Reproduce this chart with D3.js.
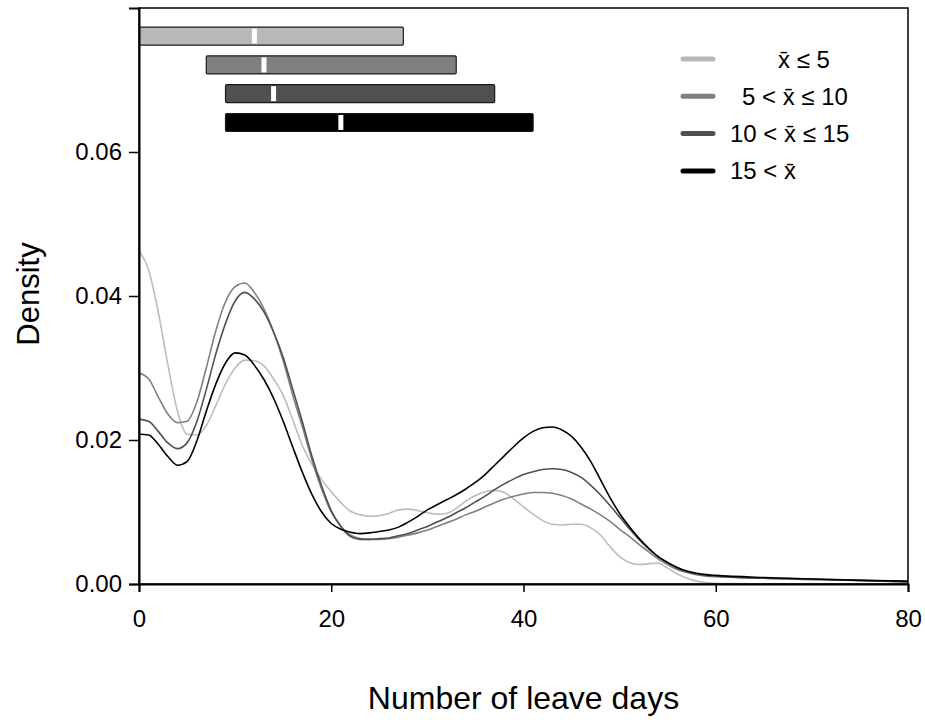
<!DOCTYPE html>
<html><head><meta charset="utf-8">
<script src="https://cdn.jsdelivr.net/npm/d3@7"></script>
<style>
body{margin:0;background:#fff}
svg{display:block}
text{font-family:"Liberation Sans",Arial,Helvetica,sans-serif;fill:#000}
</style>
</head><body>
<svg id="chart" width="925" height="720"></svg>
<script>
// ---- data ----
const days = [0,1,2,3,4,5,6,7,8,9,10,11,12,13,14,15,16,17,18,19,20,21,22,23,24,25,26,27,28,29,30,
  31,32,33,34,35,36,37,38,39,40,41,42,43,44,45,46,47,48,49,50,51,52,53,54,55,56,57,58,59,60,65,70,75,80];

const densLe5 = [.0463,.0436,.0378,.0305,.0240,.0208,.0207,.0220,.0248,.0278,.0300,.0311,.0310,.0303,.0285,.0262,
  .0228,.0192,.0166,.0145,.0128,.0113,.0101,.0096,.0094,.0095,.0098,.0103,.0104,.0102,.0099,.0097,.0098,.0105,
  .0115,.0123,.0128,.0130,.0127,.0118,.0107,.0097,.0088,.0083,.0082,.0083,.0083,.0078,.0068,.0052,.0038,.0030,
  .0027,.0028,.0029,.0022,.0014,.0008,.0004,.0002,.0001,.00003,0,0,0];

const dens5to10 = [.0293,.0285,.0260,.0236,.0224,.0226,.0252,.0300,.0352,.0392,.0413,.0418,.0405,.0382,.0350,.0310,
  .0262,.0218,.0172,.0132,.0100,.0080,.0068,.0063,.0062,.0062,.0063,.0065,.0068,.0071,.0075,.0080,.0085,.0090,
  .0096,.0101,.0107,.0113,.0118,.0122,.0125,.0127,.0127,.0126,.0123,.0118,.0111,.0104,.0096,.0087,.0076,.0066,
  .0055,.0045,.0035,.0027,.0020,.0016,.0013,.0011,.0010,.0008,.0006,.0005,.0003];

const dens10to15 = [.0229,.0226,.0212,.0196,.0188,.0196,.0225,.0270,.0320,.0362,.0393,.0405,.0396,.0378,.0350,.0315,
  .0270,.0225,.0177,.0136,.0102,.0080,.0066,.0062,.0062,.0063,.0064,.0067,.0070,.0075,.0080,.0086,.0092,.0099,
  .0106,.0114,.0122,.0131,.0139,.0146,.0152,.0156,.0159,.0160,.0159,.0155,.0148,.0137,.0124,.0109,.0093,.0077,
  .0062,.0049,.0038,.0029,.0022,.0017,.0014,.0012,.0011,.0008,.0007,.0005,.0003];

const densGt15 = [.0208,.0207,.0194,.0177,.0165,.0170,.0198,.0240,.0278,.0307,.0321,.0318,.0304,.0284,.0258,.0226,
  .0190,.0155,.0124,.0100,.0084,.0076,.0072,.0070,.0071,.0073,.0075,.0079,.0086,.0094,.0103,.0110,.0117,.0124,
  .0132,.0141,.0152,.0165,.0178,.0191,.0203,.0212,.0217,.0218,.0214,.0205,.0190,.0170,.0145,.0120,.0098,.0080,
  .0064,.0050,.0038,.0030,.0023,.0018,.0015,.0013,.0012,.0009,.0007,.0005,.0004];

const seriesLabels = ["x\u0304 \u2264 5", "5 < x\u0304 \u2264 10", "10 < x\u0304 \u2264 15", "15 < x\u0304"];
const seriesColors = ["#b8b8b8", "#808080", "#505050", "#000000"];
const lineColors   = ["#bdbdbd", "#808080", "#505050", "#000000"];
const rangeLow  = [0, 7, 9, 9];
const rangeHigh = [27.5, 33, 37, 41];
const rangeMid  = [12, 13, 14, 21];
const xTicks = [0, 20, 40, 60, 80];
const yTicks = [0, 0.02, 0.04, 0.06];

// ---- layout ----
const svg = d3.select("#chart");
const L = 139, R = 908, T = 8, B = 584;
const x = d3.scaleLinear().domain([0, 80]).range([L, R]);
const y = d3.scaleLinear().domain([0, 0.08]).range([B, T]);

svg.append("defs").append("clipPath").attr("id", "plotclip")
  .append("rect").attr("x", L).attr("y", T).attr("width", R - L).attr("height", B - T);

const plot = svg.append("g").attr("clip-path", "url(#plotclip)");

// density curves
const allSeries = [densLe5, dens5to10, dens10to15, densGt15];
const line = d3.line().x(d => x(d[0])).y(d => y(d[1])).curve(d3.curveMonotoneX);
allSeries.forEach((s, i) => {
  plot.append("path")
    .attr("d", line(days.map((dd, k) => [dd, s[k]])))
    .attr("fill", "none")
    .attr("stroke", lineColors[i])
    .attr("stroke-width", 1.6);
});

// range bars
const rowCenter = i => 0.0761 - i * 0.004;
const barH = y(0) - y(0.0025);
rangeLow.forEach((lo, i) => {
  const cy = y(rowCenter(i));
  plot.append("rect")
    .attr("x", x(lo) - (i === 0 ? 4 : 0)).attr("y", cy - barH / 2)
    .attr("width", x(rangeHigh[i]) - x(lo) + (i === 0 ? 4 : 0)).attr("height", barH)
    .attr("rx", 1.2)
    .attr("fill", seriesColors[i]).attr("stroke", "#1a1a1a").attr("stroke-width", 1.2);
  plot.append("rect")
    .attr("x", x(rangeMid[i]) - 2.5).attr("y", cy - barH / 2 + 1.5)
    .attr("width", 5).attr("height", barH - 3)
    .attr("fill", "#ffffff");
});

// frame
svg.append("rect").attr("x", L).attr("y", T).attr("width", R - L).attr("height", B - T)
  .attr("fill", "none").attr("stroke", "#000").attr("stroke-width", 1.5);

// axes
const xAxis = svg.append("g").attr("transform", `translate(0,${B})`)
  .call(d3.axisBottom(x).tickValues(xTicks).tickFormat(d3.format("d")).tickSize(8).tickPadding(18));
const yAxis = svg.append("g").attr("transform", `translate(${L},0)`)
  .call(d3.axisLeft(y).tickValues(yTicks).tickFormat(d3.format(".2f")).tickSize(10).tickPadding(7));
[xAxis, yAxis].forEach(a => {
  a.select(".domain").attr("stroke", "#000").attr("stroke-width", 2);
  a.selectAll(".tick line").attr("stroke", "#000").attr("stroke-width", 1.5);
  a.selectAll(".tick text").attr("font-size", 24).attr("font-family", '"Liberation Sans",Arial,sans-serif').attr("fill", "#000");
});

// titles
svg.append("text").attr("x", (L + R) / 2).attr("y", 709).attr("text-anchor", "middle")
  .attr("font-size", 32).text("Number of leave days");
svg.append("text").attr("transform", `translate(39,${(T + B) / 2 - 2}) rotate(-90)`)
  .attr("text-anchor", "middle").attr("font-size", 31).text("Density");

// legend
const legY0 = 59, legDY = 37.3;
const legTextX = [778, 742, 730, 730];
seriesLabels.forEach((lab, i) => {
  const ly = legY0 + i * legDY;
  svg.append("line").attr("x1", 683).attr("x2", 713).attr("y1", ly).attr("y2", ly)
    .attr("stroke", seriesColors[i]).attr("stroke-width", 5).attr("stroke-linecap", "round");
  svg.append("text").attr("x", legTextX[i]).attr("y", ly + 8.5)
    .attr("font-size", 24).text(lab);
});
</script>
</body></html>
